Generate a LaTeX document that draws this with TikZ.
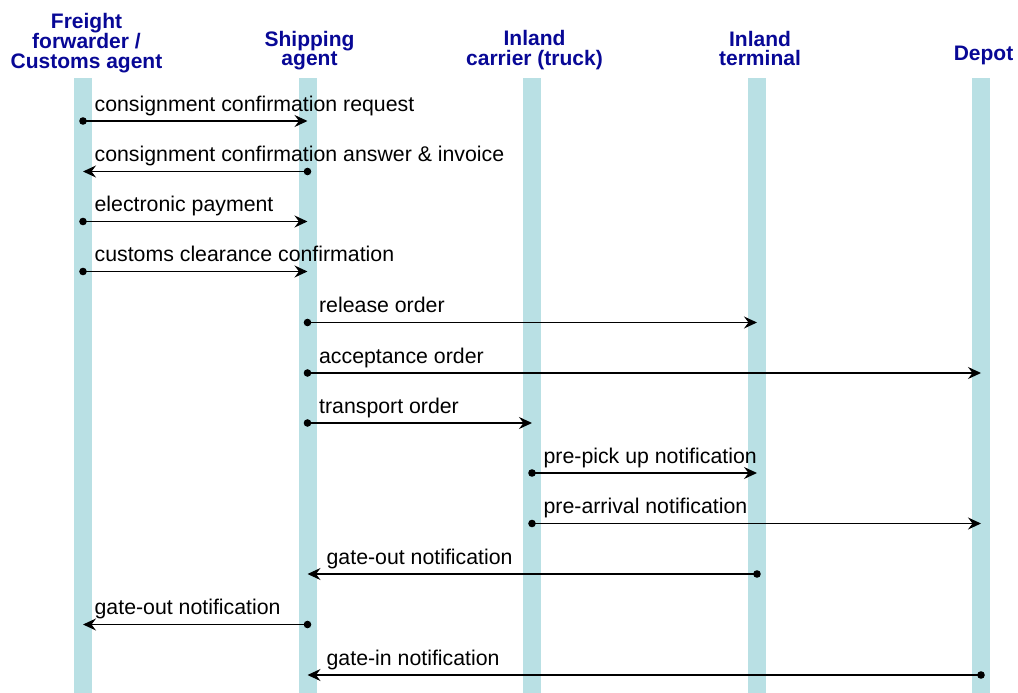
\documentclass[tikz,border=0pt]{standalone}
\usepackage{fontspec}
\setmainfont{Liberation Sans}
\usetikzlibrary{arrows.meta}
\definecolor{lanecol}{RGB}{185,224,228}
\definecolor{headcol}{RGB}{8,8,150}
\tikzstyle{head} = [inner sep=0pt, align=center, text=headcol, font=\fontsize{21}{19.5}\selectfont\bfseries]
\tikzstyle{lane} = [rectangle, fill=lanecol, inner sep=0pt, minimum width=18pt, minimum height=615pt]
\tikzstyle{msg} = [line width=1.3pt, -{Stealth[length=13pt, width=12pt, inset=4.5pt]}]
\tikzstyle{lbl} = [inner sep=0pt, anchor=base west, xshift=11pt, yshift=10pt, font=\fontsize{21.3}{24}\selectfont]
\tikzstyle{lblr} = [lbl, xshift=7.5pt]

\begin{document}
\begin{tikzpicture}[x=1pt, y=-1pt]

    \useasboundingbox (0,0) rectangle (1018,693);

    % lifelines
    \node (ffl) [lane] at (83,385.5) {};
    \node (sal) [lane] at (307.5,385.5) {};
    \node (icl) [lane] at (532,385.5) {};
    \node (itl) [lane] at (757,385.5) {};
    \node (dpl) [lane] at (981,385.5) {};

    \node (ff) [head] at (86.5,43) {Freight\\forwarder /\\Customs agent};
    \node (sa) [head] at (309.5,50.5) {Shipping\\agent};
    \node (ic) [head] at (534.5,50) {Inland\\carrier (truck)};
    \node (it) [head] at (760,48.3) {Inland\\terminal};
    \node (dp) [head] at (983.5,55.6) {Depot};

    % message rows
    \foreach \y [count=\i] in {121,171.5,221.5,271.5,322.5,373,423,473,523.5,574,624.5,675}
        \coordinate (r\i) at (0,\y);

    \draw[msg] (ffl |- r1) node[lbl] {consignment confirmation request} -- (sal |- r1);
    \draw[msg] (sal |- r2) -- (ffl |- r2) node[lbl] {consignment confirmation answer \& invoice};
    \draw[msg] (ffl |- r3) node[lbl] {electronic payment} -- (sal |- r3);
    \draw[msg] (ffl |- r4) node[lbl] {customs clearance confirmation} -- (sal |- r4);
    \draw[msg] (sal |- r5) node[lbl] {release order} -- (itl |- r5);
    \draw[msg] (sal |- r6) node[lbl] {acceptance order} -- (dpl |- r6);
    \draw[msg] (sal |- r7) node[lbl] {transport order} -- (icl |- r7);
    \draw[msg] (icl |- r8) node[lbl] {pre-pick up notification} -- (itl |- r8);
    \draw[msg] (icl |- r9) node[lbl] {pre-arrival notification} -- (dpl |- r9);
    \draw[msg] (itl |- r10) -- (sal |- r10) node[lblr] {gate-out notification};
    \draw[msg] (sal |- r11) -- (ffl |- r11) node[lbl] {gate-out notification};
    \draw[msg] (dpl |- r12) -- (sal |- r12) node[lblr] {gate-in notification};

    % start dots
    \foreach \a/\r in {ffl/r1, sal/r2, ffl/r3, ffl/r4, sal/r5, sal/r6, sal/r7, icl/r8, icl/r9, itl/r10, sal/r11, dpl/r12}
        \fill (\a |- \r) circle (3.8);

\end{tikzpicture}
\end{document}
